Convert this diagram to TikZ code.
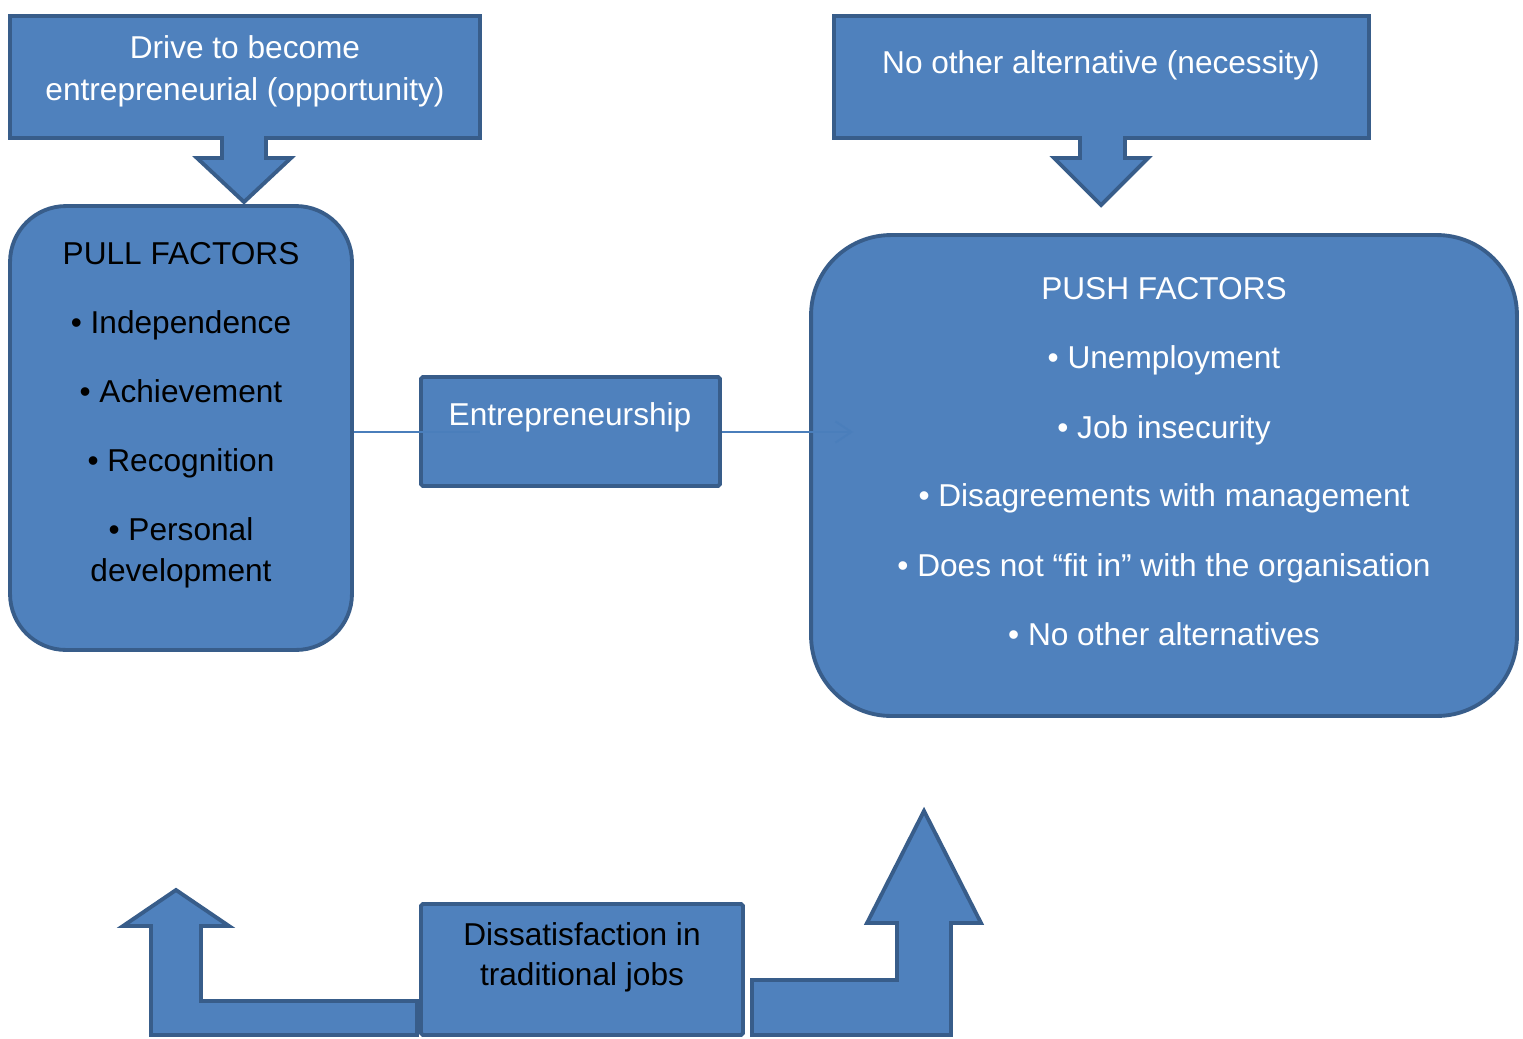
\documentclass[tikz,border=0pt]{standalone}
\usepackage{fontspec}
\setmainfont{Liberation Sans}
\usetikzlibrary{arrows.meta}
\definecolor{boxfill}{HTML}{4F81BD}
\definecolor{boxline}{HTML}{385D8A}
\definecolor{linkline}{HTML}{4A7EBB}
\begin{document}
\begin{tikzpicture}[x=0.02cm,y=-0.02cm,
  blueshape/.style={fill=boxfill,draw=boxline,line width=2.2pt,line join=miter},
  plainbox/.style={blueshape,rectangle,inner sep=0pt,rounded corners=1pt},
  roundbox/.style={blueshape,rectangle,inner sep=0pt},
  txt/.style={anchor=base,inner sep=0pt,font=\fontsize{18pt}{22pt}\selectfont},
  link/.style={draw=linkline,line width=1.1pt}]
\clip (0,0) rectangle (1523,1038);

% top callouts with their down arrows
\path[blueshape] (10,16) -- (480,16) -- (480,138) -- (266,138) -- (266,158)
  -- (291,158) -- (244,202) -- (197,158) -- (222,158) -- (222,138)
  -- (10,138) -- cycle;
\path[blueshape] (834,16) -- (1369,16) -- (1369,138) -- (1125,138) -- (1125,158)
  -- (1148,158) -- (1101,205) -- (1054,158) -- (1080,158) -- (1080,138)
  -- (834,138) -- cycle;

% bent arrows rising from the bottom box
\path[blueshape] (151,1035) -- (151,926) -- (123,926) -- (176,890) -- (229,926)
  -- (201,926) -- (201,1001) -- (417,1001) -- (417,1035) -- cycle;
\path[blueshape] (752,1035) -- (752,980) -- (897,980) -- (897,923) -- (867,923)
  -- (924,811) -- (981,923) -- (951,923) -- (951,1035) -- cycle;

% boxes
\node[roundbox,rounded corners=1.12cm,minimum width=6.84cm,minimum height=8.88cm]
  (pull) at (181,428) {};
\node[roundbox,rounded corners=1.6cm,minimum width=14.12cm,minimum height=9.62cm]
  (push) at (1164,475.5) {};
\node[plainbox,minimum width=5.98cm,minimum height=2.18cm] (entre) at (570.5,431.5) {};
\node[plainbox,minimum width=6.44cm,minimum height=2.62cm] (dissat) at (582,969.5) {};

% connectors
\coordinate (pullend) at (480,432);
\coordinate (pushtip) at (853,432);
\draw[link] (pull.east |- pullend) -- (pullend);
\draw[link,-{Straight Barb[length=9pt,width=12pt,line width=1.1pt]}]
  (entre.east |- pushtip) -- (pushtip);

% texts
\node[txt,white] (drive1) at (245,58) {Drive to become};
\node[txt,white] (drive2) at (245,100) {entrepreneurial (opportunity)};
\node[txt,white] (necess) at (1101,73) {No other alternative (necessity)};

\node[txt] (pull0) at (181,264) {PULL FACTORS};
\node[txt] (pull1) at (181,333) {• Independence};
\node[txt] (pull2) at (181,402) {• Achievement};
\node[txt] (pull3) at (181,471) {• Recognition};
\node[txt] (pull4) at (181,540) {• Personal};
\node[txt] (pull5) at (181,581) {development};

\node[txt,white] (push0) at (1164,299) {PUSH FACTORS};
\node[txt,white] (push1) at (1164,368) {• Unemployment};
\node[txt,white] (push2) at (1164,438) {• Job insecurity};
\node[txt,white] (push3) at (1164,506) {• Disagreements with management};
\node[txt,white] (push4) at (1164,576) {• Does not “fit in” with the organisation};
\node[txt,white] (push5) at (1164,645) {• No other alternatives};

\node[txt,white] (entretxt) at (570,425) {Entrepreneurship};

\node[txt] (dis1) at (582,945) {Dissatisfaction in};
\node[txt] (dis2) at (582,985) {traditional jobs};
\end{tikzpicture}
\end{document}
